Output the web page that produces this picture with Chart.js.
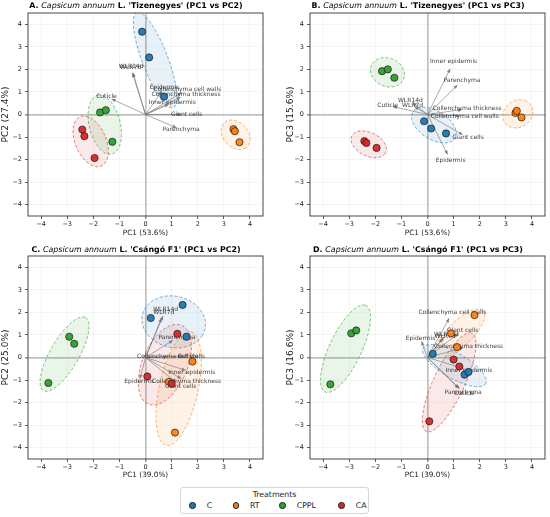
<!DOCTYPE html>
<html><head><meta charset="utf-8">
<script src="https://cdn.jsdelivr.net/npm/chart.js@4.4.1/dist/chart.umd.min.js"></script>
<style>
html,body{margin:0;padding:0;background:#fff;}
body{width:550px;height:517px;position:relative;overflow:hidden;font-family:'DejaVu Sans',sans-serif;}
.pn{position:absolute;}
#legend{position:absolute;left:180px;top:487px;width:187px;height:25px;border:1px solid #d6d6d6;border-radius:3px;background:#fff;font-size:7.8px;color:#222;}
#legend .lt{position:absolute;left:0;width:100%;top:2px;text-align:center;line-height:10px;color:#222;}
#legend .mk{position:absolute;top:14px;width:6.5px;height:6.5px;border-radius:50%;border:0.8px solid #222;box-sizing:border-box;}
#legend .tx{position:absolute;top:13px;line-height:10px;color:#222;}
</style></head><body>
<div class="pn" style="left:0;top:0;"><canvas id="cA" width="275" height="240"></canvas></div>
<div class="pn" style="left:282px;top:0;"><canvas id="cB" width="268" height="240"></canvas></div>
<div class="pn" style="left:0;top:240px;"><canvas id="cC" width="275" height="240"></canvas></div>
<div class="pn" style="left:282px;top:240px;"><canvas id="cD" width="268" height="240"></canvas></div>
<div id="legend"></div>
<script>
// ---------- data ----------
const groups = ['C', 'RT', 'CPPL', 'CA'];
const groupColors = ['#1f77b4', '#ff7f0e', '#2ca02c', '#d62728'];
const variables = ['Epidermis', 'Inner epidermis', 'Cuticle', 'Collenchyma thickness', 'Collenchyma cell walls', 'Parenchyma', 'Giant cells', 'WLR7d', 'WLR14d'];
const axisTicks = [-4, -3, -2, -1, 0, 1, 2, 3, 4];

// 'Tizenegyes' PCA scores (per group: C, RT, CPPL, CA)
const tizPC1 = [[-0.13, 0.14, 0.71], [3.37, 3.42, 3.60], [-1.74, -1.52, -1.27], [-2.42, -2.34, -1.95]];
const tizPC2 = [[3.67, 2.53, 0.79], [-0.65, -0.74, -1.23], [0.09, 0.19, -1.21], [-0.67, -0.96, -1.93]];
const tizPC3 = [[-0.30, -0.62, -0.84], [0.07, 0.16, -0.13], [1.92, 2.00, 1.63], [-1.18, -1.26, -1.48]];

// 'Csángó F1' PCA scores
const csPC1 = [[0.20, 1.42, 1.57], [1.80, 0.90, 1.13], [-2.92, -2.73, -3.72], [1.22, 0.07, 1.00]];
const csPC2 = [[1.75, 2.33, 0.92], [-0.18, -1.08, -3.33], [0.92, 0.61, -1.13], [1.05, -0.84, -1.16]];
const csPC3 = [[0.16, -0.76, -0.64], [1.88, 1.07, 0.46], [1.07, 1.20, -1.19], [-0.40, -2.83, -0.09]];

// loading arrow tips (same order as variables)
const loadA_x = [0.63, 0.89, -1.30, 1.35, 1.39, 1.19, 1.37, -0.50, -0.48];
const loadA_y = [1.04, 0.45, 0.69, 0.76, 0.97, -0.59, 0.01, 1.83, 1.85];
const loadB_x = [0.77, 0.87, -1.33, 1.32, 1.24, 1.15, 1.35, -0.50, -0.57];
const loadB_y = [-1.77, 2.03, 0.35, 0.22, -0.06, 1.31, -0.90, 0.35, 0.53];
const loadC_x = [-0.21, 1.54, 1.42, 1.37, 0.85, 1.05, 1.17, 0.61, 0.67];
const loadC_y = [-0.94, -0.57, 0.06, -0.94, 0.03, 0.76, -1.10, 1.74, 1.84];
const loadD_x = [-0.23, 1.38, 1.23, 1.37, 0.83, 1.19, 1.17, 0.58, 0.63];
const loadD_y = [0.72, -0.49, -1.38, 0.43, 1.74, -1.36, 1.05, 0.83, 0.90];
const labelScale = 1.15;

// group confidence ellipses: [centre x, centre y, semi-major, semi-minor, angle deg]
const ellipseA = [[0.37, 2.42, 2.22, 0.50, 108], [3.45, -0.90, 0.70, 0.50, -60], [-1.56, -0.45, 1.33, 0.60, 100.8], [-2.10, -1.19, 1.17, 0.60, -72]];
const ellipseB = [[0.245, -0.47, 1.00, 0.60, -40], [3.46, 0.03, 0.65, 0.55, 60], [-1.53, 1.87, 0.70, 0.60, -45], [-2.25, -1.32, 0.75, 0.50, -35]];
const ellipseC = [[1.08, 1.58, 1.25, 1.12, -30], [1.27, -1.38, 2.56, 0.75, 79.7], [-3.10, 0.15, 1.81, 0.57, 64.3], [0.74, -0.32, 1.86, 0.88, 71.8]];
const ellipseD = [[1.03, -0.36, 1.44, 0.54, -35], [1.25, 1.07, 1.35, 0.50, 50], [-3.14, 0.39, 2.07, 0.63, 68.5], [0.83, -1.10, 2.35, 0.61, 68.6]];

// ---------- helpers ----------
const FONT = "'DejaVu Sans', sans-serif";
function rgba(hex, a) {
  const n = parseInt(hex.slice(1), 16);
  return 'rgba(' + (n >> 16 & 255) + ',' + (n >> 8 & 255) + ',' + (n & 255) + ',' + a + ')';
}
function ellipsePoints(p) {
  const [cx, cy, a, b, deg] = p;
  const th = deg * Math.PI / 180, pts = [];
  for (let i = 0; i <= 90; i++) {
    const t = i / 90 * 2 * Math.PI;
    pts.push({x: cx + a * Math.cos(th) * Math.cos(t) - b * Math.sin(th) * Math.sin(t),
              y: cy + a * Math.sin(th) * Math.cos(t) + b * Math.cos(th) * Math.sin(t)});
  }
  return pts;
}

function makePanel(id, cfg) {
  const datasets = [];
  groups.forEach((g, gi) => {
    datasets.push({type: 'scatter', label: g + ' ellipse', data: ellipsePoints(cfg.ell[gi]), showLine: true,
      fill: 'shape', backgroundColor: rgba(groupColors[gi], 0.1), borderColor: rgba(groupColors[gi], 0.75),
      borderWidth: 0.8, borderDash: [3, 2], pointRadius: 0, tension: 0, order: 3, kind: 'ell'});
  });
  variables.forEach((v, vi) => {
    datasets.push({type: 'scatter', label: v, data: [{x: 0, y: 0}, {x: cfg.lx[vi], y: cfg.ly[vi]}], showLine: true,
      borderColor: 'rgba(110,110,110,0.75)', borderWidth: 0.8, pointRadius: 0, order: 2, kind: 'arrow'});
  });
  groups.forEach((g, gi) => {
    datasets.push({type: 'scatter', label: g, data: cfg.sx[gi].map((x, i) => ({x: x, y: cfg.sy[gi][i]})),
      backgroundColor: rgba(groupColors[gi], 0.95), borderColor: '#1a1a1a', borderWidth: 0.7,
      pointRadius: 3.6, pointHoverRadius: 3.6, order: 1 + (3 - gi) * 0.01, kind: 'pt'});
  });

  let labelsDone = false;
  const overlay = {
    id: 'overlay' + id,
    beforeDatasetsDraw() { labelsDone = false; },
    beforeDatasetDraw(chart, args) {
      const ds = chart.data.datasets[args.index];
      if (ds.kind !== 'pt' || labelsDone) return;
      labelsDone = true;
      const ctx = chart.ctx, xs = chart.scales.x, ys = chart.scales.y;
      ctx.save();
      // arrow heads
      ctx.fillStyle = 'rgba(110,110,110,0.8)';
      variables.forEach((v, vi) => {
        const x0 = xs.getPixelForValue(0), y0 = ys.getPixelForValue(0);
        const x1 = xs.getPixelForValue(cfg.lx[vi]), y1 = ys.getPixelForValue(cfg.ly[vi]);
        const ang = Math.atan2(y1 - y0, x1 - x0), L = 4, W = 1.8;
        ctx.beginPath();
        ctx.moveTo(x1, y1);
        ctx.lineTo(x1 - L * Math.cos(ang) + W * Math.sin(ang), y1 - L * Math.sin(ang) - W * Math.cos(ang));
        ctx.lineTo(x1 - L * Math.cos(ang) - W * Math.sin(ang), y1 - L * Math.sin(ang) + W * Math.cos(ang));
        ctx.closePath();
        ctx.fill();
      });
      // variable labels
      ctx.font = '6px ' + FONT;
      ctx.fillStyle = 'rgba(40,40,40,0.9)';
      ctx.textAlign = 'center';
      ctx.textBaseline = 'middle';
      variables.forEach((v, vi) => {
        ctx.fillText(v, xs.getPixelForValue(cfg.lx[vi] * labelScale), ys.getPixelForValue(cfg.ly[vi] * labelScale));
      });
      ctx.restore();
    },
    afterDraw(chart) {
      const ctx = chart.ctx, a = chart.chartArea;
      ctx.save();
      ctx.strokeStyle = '#333';
      ctx.lineWidth = 0.9;
      ctx.strokeRect(a.left, a.top, a.right - a.left, a.bottom - a.top);
      // mixed-style title
      const fs = '7.9px ';
      const parts = [[cfg.letter + ' ', 'bold ' + fs + FONT], ['Capsicum annuum', 'italic ' + fs + FONT], [' L. ' + cfg.cultivar + ' (' + cfg.pair + ')', 'bold ' + fs + FONT]];
      let total = 0;
      const widths = parts.map(p => { ctx.font = p[1]; const w = ctx.measureText(p[0]).width; total += w; return w; });
      let x = 136 - total / 2;
      ctx.fillStyle = '#000';
      ctx.textAlign = 'left';
      ctx.textBaseline = 'middle';
      parts.forEach((p, i) => { ctx.font = p[1]; ctx.fillText(p[0], x, cfg.titleY); x += widths[i]; });
      ctx.restore();
    }
  };

  const axisCommon = (title, isX) => ({
    type: 'linear', min: -4.5, max: 4.5,
    afterBuildTicks: s => { s.ticks = axisTicks.map(v => ({value: v})); },
    ticks: {color: '#222', font: {family: FONT, size: 6.5}, padding: isX ? 1 : 3,
      callback: v => String(v).replace('-', '\u2212')},
    grid: {
      color: c => (c.tick && c.tick.value === 0 ? 'rgba(150,150,150,0.6)' : 'rgba(0,0,0,0.07)'),
      lineWidth: c => (c.tick && c.tick.value === 0 ? 1.7 : 0.6),
      tickColor: '#333', tickWidth: 0.8, tickLength: 3, drawTicks: true
    },
    border: {display: false},
    title: {display: true, text: title, color: '#222', font: {family: FONT, size: isX ? 7.3 : 9},
      padding: isX ? {top: 0, bottom: cfg.xTitlePad} : {top: cfg.yTitlePad, bottom: 0}},
    afterFit: s => { if (isX) s.height = cfg.xAxisH; else s.width = 28; }
  });

  return new Chart(document.getElementById(id), {
    type: 'scatter',
    data: {datasets: datasets},
    options: {
      responsive: false, animation: false, events: [],
      layout: {padding: {left: 0, right: cfg.padR, top: cfg.padT, bottom: 0}},
      plugins: {legend: {display: false}, tooltip: {enabled: false}, title: {display: false}},
      scales: {x: axisCommon(cfg.xTitle, true), y: axisCommon(cfg.yTitle, false)}
    },
    plugins: [overlay]
  });
}

makePanel('cA', {letter: 'A.', cultivar: "'Tizenegyes'", pair: 'PC1 vs PC2', titleY: 6, xTitle: 'PC1 (53.6%)', yTitle: 'PC2 (27.4%)',
  sx: tizPC1, sy: tizPC2, lx: loadA_x, ly: loadA_y, ell: ellipseA, padR: 12, padT: 13, xAxisH: 24, xTitlePad: 2.5, yTitlePad: 0});
makePanel('cB', {letter: 'B.', cultivar: "'Tizenegyes'", pair: 'PC1 vs PC3', titleY: 6, xTitle: 'PC1 (53.6%)', yTitle: 'PC3 (15.6%)',
  sx: tizPC1, sy: tizPC3, lx: loadB_x, ly: loadB_y, ell: ellipseB, padR: 5, padT: 13, xAxisH: 24, xTitlePad: 2.5, yTitlePad: 3});
makePanel('cC', {letter: 'C.', cultivar: "'Csángó F1'", pair: 'PC1 vs PC2', titleY: 10, xTitle: 'PC1 (39.0%)', yTitle: 'PC2 (25.0%)',
  sx: csPC1, sy: csPC2, lx: loadC_x, ly: loadC_y, ell: ellipseC, padR: 12, padT: 16, xAxisH: 21, xTitlePad: 1, yTitlePad: 0});
makePanel('cD', {letter: 'D.', cultivar: "'Csángó F1'", pair: 'PC1 vs PC3', titleY: 10, xTitle: 'PC1 (39.0%)', yTitle: 'PC3 (16.6%)',
  sx: csPC1, sy: csPC3, lx: loadD_x, ly: loadD_y, ell: ellipseD, padR: 5, padT: 16, xAxisH: 21, xTitlePad: 1, yTitlePad: 3});

// legend
const legendMarkerX = [11.7, 55, 101.7, 160.7];
const legendEl = document.getElementById('legend');
let html = '<div class="lt">Treatments</div>';
groups.forEach((g, gi) => {
  html += '<span class="mk" style="left:' + (legendMarkerX[gi] - 3.25) + 'px;background:' + groupColors[gi] + '"></span>' +
          '<span class="tx" style="left:' + (legendMarkerX[gi] + 14) + 'px">' + g + '</span>';
});
legendEl.innerHTML = html;
</script>
</body></html>
